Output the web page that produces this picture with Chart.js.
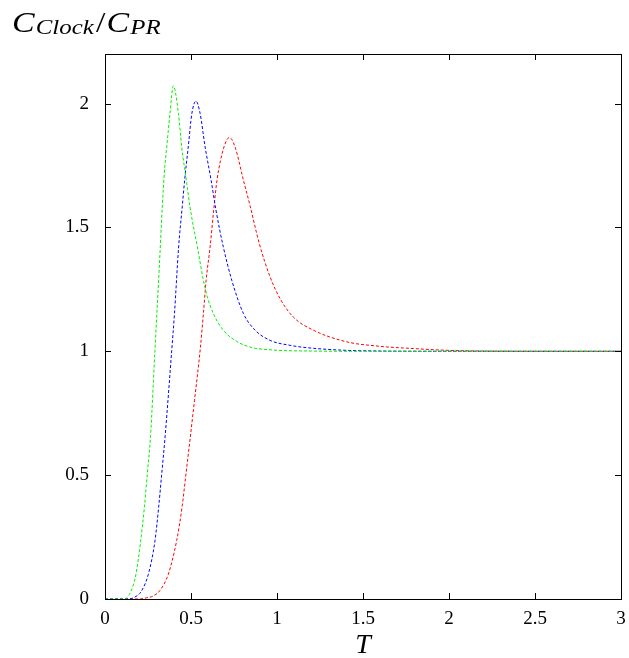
<!DOCTYPE html>
<html>
<head>
<meta charset="utf-8">
<script src="https://cdn.jsdelivr.net/npm/chart.js@4.4.1/dist/chart.umd.min.js"></script>
<style>
  html, body { margin: 0; padding: 0; background: #fff; }
  #wrap { width: 629px; height: 658px; }
</style>
</head>
<body>
<div id="wrap"><canvas id="chart" width="629" height="658"></canvas></div>
<script>
// data (T, C_Clock/C_PR)
const greenT = [0, 0.10, 0.126, 0.15, 0.18, 0.208, 0.229, 0.246, 0.265, 0.29, 0.315, 0.333, 0.345, 0.359, 0.378, 0.397, 0.427, 0.446, 0.473, 0.494, 0.537, 0.572, 0.595, 0.630, 0.688, 0.756, 0.843, 0.96, 1.2, 1.5, 2.0, 2.5, 3.0];
const greenC = [0, 0, 0.005, 0.03, 0.10, 0.237, 0.371, 0.506, 0.66, 1.0, 1.33, 1.583, 1.72, 1.825, 1.96, 2.071, 1.96, 1.825, 1.69, 1.583, 1.421, 1.287, 1.219, 1.152, 1.085, 1.044, 1.017, 1.006, 1.001, 1.0, 1.0, 1.0, 1.0];

const blueT = [0, 0.13, 0.165, 0.21, 0.252, 0.291, 0.312, 0.33, 0.35, 0.388, 0.404, 0.428, 0.449, 0.463, 0.484, 0.505, 0.529, 0.553, 0.582, 0.617, 0.645, 0.688, 0.737, 0.805, 0.873, 0.96, 1.076, 1.212, 1.5, 2.0, 2.5, 3.0];
const blueC = [0, 0, 0.005, 0.03, 0.10, 0.237, 0.371, 0.506, 0.66, 1.004, 1.152, 1.421, 1.583, 1.69, 1.825, 1.96, 2.01, 1.96, 1.825, 1.69, 1.57, 1.421, 1.287, 1.152, 1.085, 1.044, 1.024, 1.012, 1.002, 1.0, 1.0, 1.0];

const redT = [0, 0.20, 0.243, 0.28, 0.32, 0.368, 0.417, 0.448, 0.471, 0.492, 0.52, 0.555, 0.572, 0.588, 0.611, 0.632, 0.651, 0.692, 0.723, 0.756, 0.805, 0.845, 0.895, 0.96, 1.02, 1.095, 1.212, 1.406, 1.6, 1.793, 1.987, 2.2, 2.5, 3.0];
const redC = [0, 0, 0.005, 0.012, 0.035, 0.10, 0.237, 0.371, 0.506, 0.63, 0.80, 1.017, 1.152, 1.287, 1.421, 1.57, 1.69, 1.825, 1.863, 1.825, 1.69, 1.583, 1.44, 1.30, 1.21, 1.138, 1.085, 1.038, 1.020, 1.011, 1.004, 1.001, 1.0, 1.0];

const xTicks = [0, 0.5, 1, 1.5, 2, 2.5, 3];
const yTicks = [0, 0.5, 1, 1.5, 2];

const pts = (xs, ys) => xs.map((x, i) => ({ x: x, y: ys[i] }));

const serif = "'Liberation Serif', 'DejaVu Serif', serif";

function series(xs, ys, color) {
    return {
        data: pts(xs, ys),
        borderColor: color,
        borderWidth: 1,
        borderDash: [3, 2],
        pointRadius: 0,
        fill: false,
        cubicInterpolationMode: "monotone"
    };
}

/* frame, inward ticks and axis titles */
const framePlugin = {
    id: "frame",
    afterDatasetsDraw(chart) {
        const { ctx, chartArea: a, scales } = chart;
        ctx.save();
        ctx.strokeStyle = "#000";
        ctx.lineWidth = 1;
        ctx.setLineDash([]);
        ctx.strokeRect(a.left + 0.5, a.top + 0.5, a.right - a.left, a.bottom - a.top);
        const len = 6;
        ctx.beginPath();
        xTicks.forEach(v => {
            const px = Math.round(scales.x.getPixelForValue(v)) + 0.5;
            ctx.moveTo(px, a.bottom); ctx.lineTo(px, a.bottom - len);
            ctx.moveTo(px, a.top); ctx.lineTo(px, a.top + len);
        });
        yTicks.forEach(v => {
            const py = Math.round(scales.y.getPixelForValue(v)) + 0.5;
            ctx.moveTo(a.left, py); ctx.lineTo(a.left + len, py);
            ctx.moveTo(a.right, py); ctx.lineTo(a.right - len, py);
        });
        ctx.stroke();

        // y title: C_Clock / C_PR, drawn piece by piece
        ctx.fillStyle = "#000";
        ctx.textBaseline = "alphabetic";
        const parts = [
            ["C", "italic 30px ", 0, 1],
            ["Clock", "italic 22px ", 2, 2],
            ["/", "30px ", 0, 1],
            ["C", "italic 30px ", 0, 1],
            ["PR", "italic 22px ", 2, 0]
        ];
        ctx.save();
        ctx.translate(12, 32);
        ctx.scale(1.13, 1);
        let x = 0;
        parts.forEach(([txt, f, dy, gap]) => {
            ctx.font = f + serif;
            ctx.fillText(txt, x, dy);
            x += ctx.measureText(txt).width + gap;
        });
        ctx.restore();

        // x title
        ctx.font = "italic 28px " + serif;
        ctx.textAlign = "center";
        ctx.fillText("T", (a.left + a.right) / 2, 653);
        ctx.restore();
    }
};

new Chart(document.getElementById("chart"), {
    type: "line",
    data: {
        datasets: [
            series(greenT, greenC, "#00f000"),
            series(blueT, blueC, "#0000ff"),
            series(redT, redC, "#ff0000")
        ]
    },
    options: {
        responsive: false,
        animation: false,
        layout: { padding: { top: 54, right: 8, left: 0, bottom: 0 } },
        plugins: { legend: { display: false }, tooltip: { enabled: false } },
        scales: {
            x: {
                type: "linear",
                min: 0,
                max: 3,
                afterBuildTicks: s => { s.ticks = xTicks.map(v => ({ value: v })); },
                afterFit: s => { s.height = 59; s.paddingLeft = 0; s.paddingRight = 0; },
                grid: { display: false },
                border: { display: false },
                ticks: { color: "#000", font: { family: serif, size: 19 }, padding: 1, maxRotation: 0, callback: v => String(v) }
            },
            y: {
                min: 0,
                max: 2.2,
                afterBuildTicks: s => { s.ticks = yTicks.map(v => ({ value: v })); },
                afterFit: s => { s.width = 105; },
                grid: { display: false },
                border: { display: false },
                ticks: { color: "#000", font: { family: serif, size: 19 }, padding: 8, callback: v => String(v) }
            }
        }
    },
    plugins: [framePlugin]
});
</script>
</body>
</html>
